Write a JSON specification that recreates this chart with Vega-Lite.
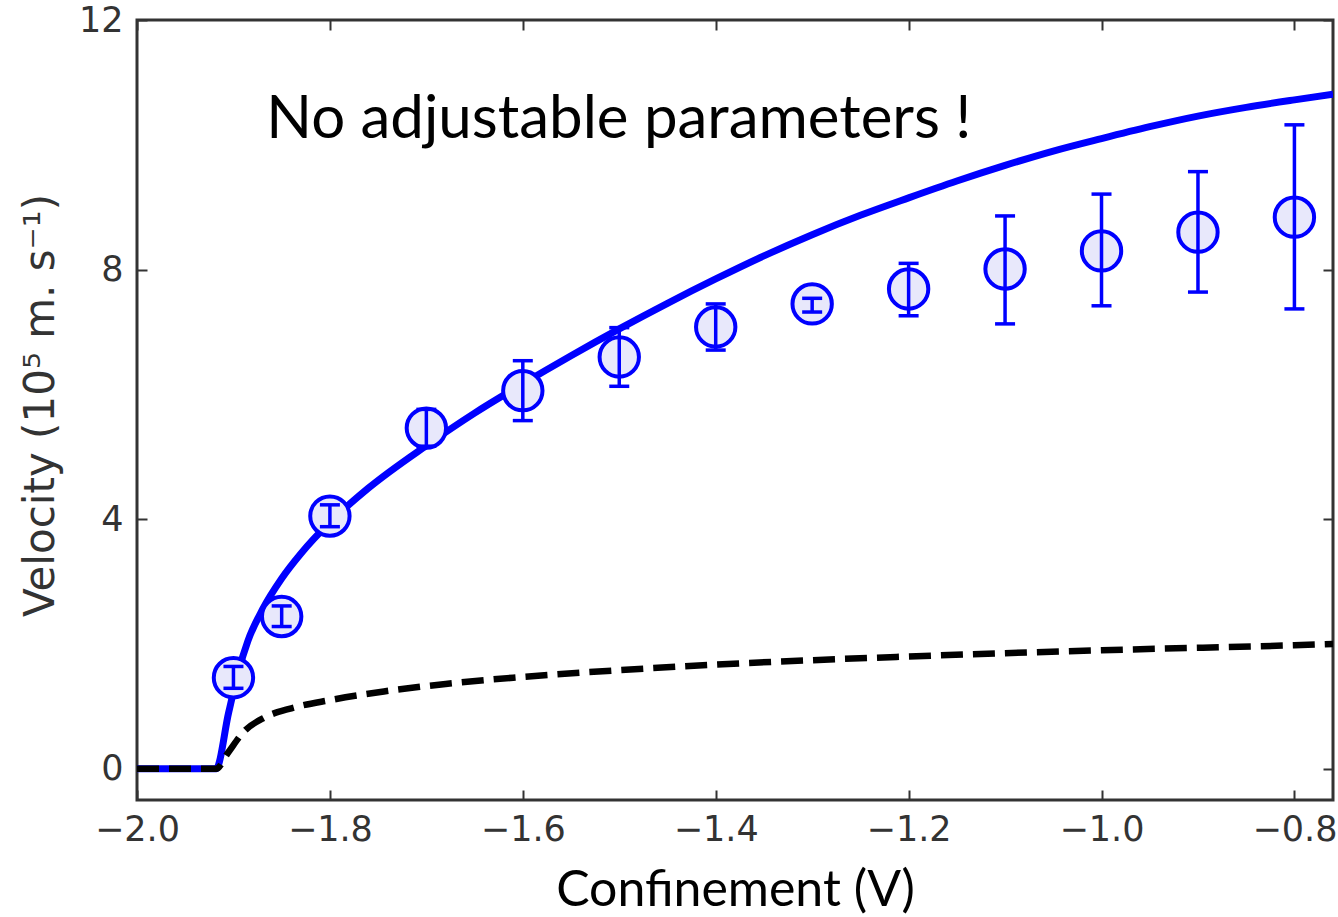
{
  "$schema": "https://vega.github.io/schema/vega-lite/v6.json",
  "autosize": "none",
  "width": 1196,
  "height": 780,
  "padding": {"left": 137, "top": 20, "right": 5, "bottom": 117},
  "background": "white",
  "config": {
    "view": {"stroke": "#333333", "strokeWidth": 3},
    "axis": {
      "grid": false,
      "domain": false,
      "tickColor": "#333333",
      "tickWidth": 2,
      "tickSize": -10,
      "labelFont": "DejaVu Sans",
      "labelFontSize": 35,
      "labelColor": "#333333",
      "labelFlush": false,
      "labelOverlap": false,
      "titleFontWeight": "normal"
    }
  },
  "datasets": {
    "theory": [
      {"v": -2.0, "vel": 0}, {"v": -1.918, "vel": 0}, {"v": -1.905, "vel": 0.9},
      {"v": -1.895, "vel": 1.55}, {"v": -1.885, "vel": 2.05}, {"v": -1.87, "vel": 2.55},
      {"v": -1.85, "vel": 3.05}, {"v": -1.83, "vel": 3.45}, {"v": -1.8, "vel": 3.95},
      {"v": -1.76, "vel": 4.5}, {"v": -1.7, "vel": 5.18}, {"v": -1.65, "vel": 5.7},
      {"v": -1.6, "vel": 6.17}, {"v": -1.55, "vel": 6.62}, {"v": -1.5, "vel": 7.05},
      {"v": -1.45, "vel": 7.46}, {"v": -1.4, "vel": 7.85}, {"v": -1.35, "vel": 8.22},
      {"v": -1.3, "vel": 8.56}, {"v": -1.25, "vel": 8.87}, {"v": -1.2, "vel": 9.15},
      {"v": -1.15, "vel": 9.42}, {"v": -1.1, "vel": 9.67}, {"v": -1.05, "vel": 9.9},
      {"v": -1.0, "vel": 10.1}, {"v": -0.95, "vel": 10.29}, {"v": -0.9, "vel": 10.46},
      {"v": -0.85, "vel": 10.6}, {"v": -0.8, "vel": 10.72}, {"v": -0.76, "vel": 10.81}
    ],
    "classical": [
      {"v": -2.0, "vel": 0}, {"v": -1.918, "vel": 0}, {"v": -1.906, "vel": 0.25},
      {"v": -1.889, "vel": 0.6}, {"v": -1.868, "vel": 0.82}, {"v": -1.84, "vel": 0.97},
      {"v": -1.8, "vel": 1.1}, {"v": -1.744, "vel": 1.24}, {"v": -1.68, "vel": 1.36},
      {"v": -1.61, "vel": 1.46}, {"v": -1.54, "vel": 1.54}, {"v": -1.4, "vel": 1.67},
      {"v": -1.2, "vel": 1.8}, {"v": -1.0, "vel": 1.9}, {"v": -0.8, "vel": 1.98},
      {"v": -0.76, "vel": 2.0}
    ],
    "measured": [
      {"v": -1.9, "vel": 1.46, "lo": 1.29, "hi": 1.64},
      {"v": -1.85, "vel": 2.44, "lo": 2.28, "hi": 2.61},
      {"v": -1.8, "vel": 4.05, "lo": 3.88, "hi": 4.23},
      {"v": -1.7, "vel": 5.46, "lo": 5.17, "hi": 5.76},
      {"v": -1.6, "vel": 6.06, "lo": 5.58, "hi": 6.54},
      {"v": -1.5, "vel": 6.6, "lo": 6.13, "hi": 7.07},
      {"v": -1.4, "vel": 7.08, "lo": 6.71, "hi": 7.45},
      {"v": -1.3, "vel": 7.45, "lo": 7.32, "hi": 7.54},
      {"v": -1.2, "vel": 7.69, "lo": 7.26, "hi": 8.1},
      {"v": -1.1, "vel": 8.01, "lo": 7.13, "hi": 8.86},
      {"v": -1.0, "vel": 8.3, "lo": 7.42, "hi": 9.21},
      {"v": -0.9, "vel": 8.6, "lo": 7.64, "hi": 9.57},
      {"v": -0.8, "vel": 8.84, "lo": 7.37, "hi": 10.32}
    ],
    "note": [
      {"v": -1.866, "vel": 10.4, "label": "No adjustable parameters !"}
    ]
  },
  "resolve": {"axis": {"x": "independent", "y": "independent"}},
  "layer": [
    {
      "data": {"name": "theory"},
      "mark": {"type": "line", "color": "#0000ff", "strokeWidth": 7, "interpolate": "monotone", "clip": true},
      "encoding": {
        "x": {
          "field": "v", "type": "quantitative",
          "scale": {"domain": [-2.0, -0.76], "nice": false, "zero": false},
          "axis": {
            "orient": "bottom",
            "values": [-2.0, -1.8, -1.6, -1.4, -1.2, -1.0, -0.8],
            "format": ".1f",
            "labelPadding": 22,
            "title": "Confinement (V)",
            "titleFont": "Lato",
            "titleFontSize": 50,
            "titleColor": "#000000",
            "titleBaseline": "middle",
            "titleY": 90
          }
        },
        "y": {
          "field": "vel", "type": "quantitative",
          "scale": {"domain": [-0.5, 12], "nice": false, "zero": false},
          "axis": {
            "orient": "left",
            "values": [0, 4, 8, 12],
            "labelPadding": 24,
            "title": "Velocity (10⁵ m. s⁻¹)",
            "titleFont": "DejaVu Sans",
            "titleFontSize": 42,
            "titleColor": "#333333",
            "titleBaseline": "middle",
            "titleX": -97,
            "titleY": 385
          }
        }
      }
    },
    {
      "data": {"name": "classical"},
      "mark": {"type": "line", "color": "#000000", "strokeWidth": 6.5, "strokeDash": [22, 10], "interpolate": "monotone", "clip": true},
      "encoding": {
        "x": {"field": "v", "type": "quantitative",
          "axis": {"orient": "top", "values": [-2.0, -1.8, -1.6, -1.4, -1.2, -1.0, -0.8], "labels": false, "title": null}},
        "y": {"field": "vel", "type": "quantitative",
          "axis": {"orient": "right", "values": [0, 4, 8, 12], "labels": false, "title": null}}
      }
    },
    {
      "data": {"name": "measured"},
      "mark": {"type": "circle", "size": 1550, "fill": "#e8e8fb", "stroke": "#0000ff", "strokeWidth": 4, "opacity": 1, "fillOpacity": 1},
      "encoding": {
        "x": {"field": "v", "type": "quantitative", "axis": null},
        "y": {"field": "vel", "type": "quantitative", "axis": null}
      }
    },
    {
      "data": {"name": "measured"},
      "mark": {"type": "rule", "color": "#0000ff", "strokeWidth": 3.5},
      "encoding": {
        "x": {"field": "v", "type": "quantitative", "axis": null},
        "y": {"field": "lo", "type": "quantitative", "axis": null},
        "y2": {"field": "hi"}
      }
    },
    {
      "data": {"name": "measured"},
      "mark": {"type": "tick", "color": "#0000ff", "orient": "horizontal", "size": 20, "thickness": 3.5, "opacity": 1},
      "encoding": {
        "x": {"field": "v", "type": "quantitative", "axis": null},
        "y": {"field": "lo", "type": "quantitative", "axis": null}
      }
    },
    {
      "data": {"name": "measured"},
      "mark": {"type": "tick", "color": "#0000ff", "orient": "horizontal", "size": 20, "thickness": 3.5, "opacity": 1},
      "encoding": {
        "x": {"field": "v", "type": "quantitative", "axis": null},
        "y": {"field": "hi", "type": "quantitative", "axis": null}
      }
    },
    {
      "data": {"name": "note"},
      "mark": {"type": "text", "align": "left", "baseline": "middle", "font": "Lato", "fontSize": 60, "color": "#000000"},
      "encoding": {
        "x": {"field": "v", "type": "quantitative", "axis": null},
        "y": {"field": "vel", "type": "quantitative", "axis": null},
        "text": {"field": "label"}
      }
    }
  ]
}
